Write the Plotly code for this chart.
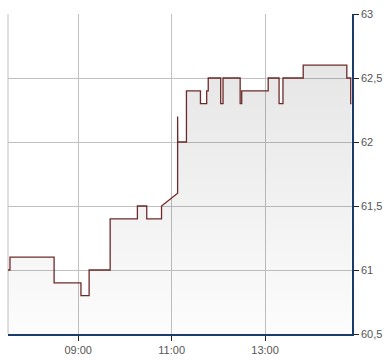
import plotly.graph_objects as go

DAY = "2024-01-02 "

# change points of the price (time, value)
times = ["07:29:50", "07:32:20", "08:29:00", "09:03:30", "09:14:00", "09:41:00",
         "10:16:00", "10:28:00", "10:47:00", "11:07:30", "11:07:40", "11:07:50",
         "11:19:00", "11:37:00", "11:45:00", "11:47:00", "12:03:00", "12:06:00",
         "12:28:00", "12:30:00", "13:04:00", "13:18:00", "13:23:00", "13:49:00",
         "14:45:00", "14:50:00"]
values = [61.0, 61.1, 60.9, 60.8, 61.0, 61.4,
          61.5, 61.4, 61.5, 61.6, 62.2, 62.0,
          62.4, 62.3, 62.4, 62.5, 62.3, 62.5,
          62.3, 62.4, 62.5, 62.3, 62.5, 62.6,
          62.5, 62.3]
end_time = "14:51:00"
# segments (index of start point) drawn as straight interpolation (data gap)
linear_segments = {8}

x_range = ["07:29:47", "14:51:40"]
y_range = [60.5, 63]
tick_times = ["09:00", "11:00", "13:00"]

xs, ys = [], []
for i, (t, v) in enumerate(zip(times, values)):
    if i > 0 and (i - 1) not in linear_segments:
        xs.append(DAY + t)
        ys.append(values[i - 1])
    xs.append(DAY + t)
    ys.append(v)
xs.append(DAY + end_time)
ys.append(values[-1])

fig = go.Figure()
fig.add_trace(go.Scatter(
    x=xs, y=ys, mode="lines",
    line=dict(color="#6e2a2a", width=1.3, shape="linear"),
    fill="tozeroy",
    fillgradient=dict(type="vertical", start=60.5, stop=63,
                      colorscale=[[0, "rgba(0,0,0,0.008)"], [1, "rgba(0,0,0,0.115)"]]),
    hoverinfo="skip",
))

axis_font = dict(family="Liberation Sans, Arial, sans-serif", size=11, color="#555555")

fig.update_layout(
    width=390, height=364,
    margin=dict(l=8, r=38, t=11, b=24),
    paper_bgcolor="white", plot_bgcolor="white",
    showlegend=False,
    separators=", ",
    xaxis=dict(
        type="date",
        range=[DAY + x_range[0], DAY + x_range[1]],
        tickvals=[DAY + t for t in tick_times],
        ticktext=tick_times,
        showgrid=True, gridcolor="#c0c0c0", gridwidth=1,
        showline=True, linecolor="#1b3c6a", linewidth=1.5,
        ticks="outside", ticklen=5, tickcolor="#222222", tickwidth=1,
        tickfont=axis_font,
        zeroline=False, fixedrange=True,
    ),
    yaxis=dict(
        side="right",
        range=y_range, dtick=0.5, tick0=60.5,
        showgrid=True, gridcolor="#c0c0c0", gridwidth=1,
        showline=True, linecolor="#1b3c6a", linewidth=1.5,
        ticks="outside", ticklen=5, tickcolor="#222222", tickwidth=1,
        tickfont=axis_font,
        zeroline=False, fixedrange=True,
    ),
    shapes=[dict(type="line", xref="paper", yref="paper", x0=0, x1=0, y0=0, y1=1,
                 line=dict(color="#c0c0c0", width=1), layer="below")],
)

fig.write_html("out.html", config={"displayModeBar": False})
